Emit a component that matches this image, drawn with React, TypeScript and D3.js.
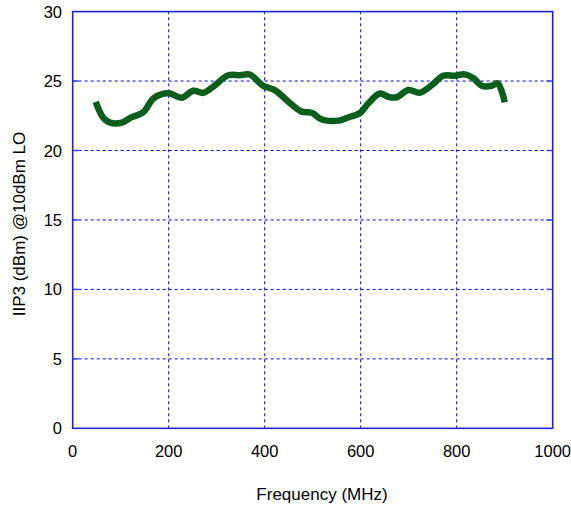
import { useEffect, useRef } from "react";
import * as d3 from "d3";

const FREQ = [48, 55, 65, 78, 102, 123, 147, 168, 189, 203, 227, 251, 272, 293, 324, 349, 369, 397, 421, 453, 477, 498, 515, 529, 553, 578, 598, 616, 640, 657, 675, 699, 723, 748, 772, 796, 817, 835, 852, 873, 885, 894, 900];
const IIP3 = [23.5, 22.9, 22.3, 22.0, 22.0, 22.4, 22.75, 23.75, 24.1, 24.1, 23.8, 24.3, 24.15, 24.6, 25.42, 25.42, 25.47, 24.65, 24.35, 23.4, 22.8, 22.72, 22.3, 22.15, 22.15, 22.43, 22.68, 23.4, 24.1, 23.87, 23.83, 24.36, 24.16, 24.7, 25.38, 25.38, 25.48, 25.2, 24.66, 24.66, 24.84, 24.25, 23.47];
const X_TICKS = [0, 200, 400, 600, 800, 1000];
const Y_TICKS = [0, 5, 10, 15, 20, 25, 30];

export default function App() {
  const ref = useRef<SVGSVGElement>(null);
  useEffect(() => {
    const el = ref.current;
    if (!el) return;
    const W = 571, H = 506;
    const svg = d3.select(el);
    svg.selectAll("*").remove();
    const x = d3.scaleLinear().domain([0, 1000]).range([72.7, 552.7]);
    const y = d3.scaleLinear().domain([0, 30]).range([428.3, 11.6]);
    const font = "'Liberation Sans', Arial, sans-serif";
    const blue = "#0000ee";

    // grid
    X_TICKS.slice(1, -1).forEach((t) => {
      svg.append("line").attr("x1", x(t)).attr("x2", x(t)).attr("y1", y(0)).attr("y2", y(30))
        .attr("stroke", blue).attr("stroke-width", 1).attr("stroke-dasharray", "3,3");
    });
    Y_TICKS.slice(1, -1).forEach((t) => {
      svg.append("line").attr("x1", x(0)).attr("x2", x(1000)).attr("y1", y(t)).attr("y2", y(t))
        .attr("stroke", blue).attr("stroke-width", 1).attr("stroke-dasharray", "3,3");
      // inward ticks
      svg.append("line").attr("x1", x(0)).attr("x2", x(0) + 6).attr("y1", y(t)).attr("y2", y(t)).attr("stroke", "#4040ee").attr("stroke-width", 1.5);
      svg.append("line").attr("x1", x(1000) - 6).attr("x2", x(1000)).attr("y1", y(t)).attr("y2", y(t)).attr("stroke", "#4040ee").attr("stroke-width", 1.5);
    });
    svg.append("rect").attr("x", x(0)).attr("y", y(30)).attr("width", x(1000) - x(0)).attr("height", y(0) - y(30))
      .attr("fill", "none").attr("stroke", "#2222dd").attr("stroke-width", 1.6);

    // tick labels
    Y_TICKS.forEach((t) => {
      svg.append("text").attr("x", 62).attr("y", y(t) + 6).attr("text-anchor", "end")
        .attr("font-family", font).attr("font-size", 16.5).attr("fill", "#000").text(t);
    });
    X_TICKS.forEach((t) => {
      svg.append("text").attr("x", x(t)).attr("y", 457).attr("text-anchor", "middle")
        .attr("font-family", font).attr("font-size", 16.5).attr("fill", "#000").text(t);
    });

    // axis titles
    svg.append("text").attr("x", 322).attr("y", 500).attr("text-anchor", "middle")
      .attr("font-family", font).attr("font-size", 17).attr("fill", "#000").text("Frequency (MHz)");
    svg.append("text").attr("transform", "translate(25,224) rotate(-90)").attr("text-anchor", "middle")
      .attr("font-family", font).attr("font-size", 17).attr("fill", "#000").text("IIP3 (dBm) @10dBm LO");

    // series
    const line = d3.line<number>().x((_d, i) => x(FREQ[i])).y((d) => y(d)).curve(d3.curveCatmullRom);
    svg.append("path").attr("d", line(IIP3)).attr("fill", "none").attr("stroke", "#0b5e1c")
      .attr("stroke-width", 6.5).attr("stroke-linejoin", "round");

    svg.attr("width", W).attr("height", H).attr("viewBox", `0 0 ${W} ${H}`);
  }, []);
  return <svg ref={ref} style={{ position: "absolute", left: 0, top: 0 }} role="img" aria-label="IIP3 vs frequency" />;
}
